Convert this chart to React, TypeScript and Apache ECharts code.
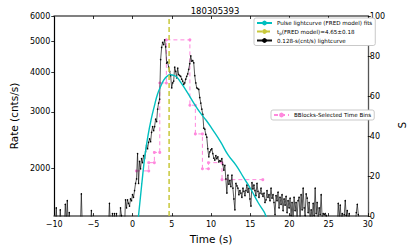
import React, { useEffect, useRef } from 'react';
import * as echarts from 'echarts';

// ---- data ----
const T0 = -10;
const DT = 0.128;
const RATES: number[] = [
  1300, 1300, 1500, 1300, 1300, 1300, 1480, 1300, 1300, 1300,
  1300, 1540, 1350, 1580, 1300, 1450, 1300, 1300, 1300, 1300,
  1300, 1300, 1300, 1300, 1300, 1300, 1300, 1660, 1300, 1300,
  1300, 1300, 1300, 1300, 1300, 1300, 1300, 1470, 1300, 1300,
  1300, 1300, 1300, 1300, 1300, 1300, 1300, 1300, 1300, 1300,
  1300, 1300, 1300, 1300, 1300, 1550, 1300, 1300, 1440, 1300,
  1440, 1300, 1440, 1300, 1300, 1300, 1500, 1420, 1300, 1300,
  1300, 1590, 1500, 1590, 1550, 1520, 1600, 1580, 1650, 1620,
  1700, 1790, 1850, 2220, 1790, 2100, 1990, 2140, 2080, 2190,
  2150, 2250, 2360, 2300, 2410, 2470, 2420, 2590, 2700, 2620,
  2700, 2850, 2800, 3060, 3200, 3290, 4380, 4780, 4960, 4880,
  5050, 4800, 4270, 4300, 4150, 4020, 3900, 3570, 3700, 3750,
  4150, 4020, 3840, 4120, 3930, 3900, 3880, 3800, 3750, 3660,
  3700, 3800, 3880, 3950, 4080, 4250, 4500, 4330, 4350, 4280,
  3900, 3700, 3570, 3550, 3530, 3330, 3200, 3060, 2950, 2670,
  2650, 2550, 2500, 2300, 2170, 2250, 2280, 2300, 2220, 2150,
  2120, 2190, 2140, 2170, 2090, 2110, 2100, 2140, 2050, 1970,
  2040, 1850, 1670, 1900, 1780, 1830, 1750, 1900, 1730, 1600,
  1480, 1790, 1760, 1730, 1650, 1700, 1670, 1620, 1730, 1690,
  1640, 1700, 1770, 1680, 1730, 1600, 1520, 1800, 1720, 1770,
  1700, 1640, 1790, 1690, 1620, 1670, 1730, 1660, 1630, 1670,
  1560, 1590, 1700, 1620, 1650, 1580, 1730, 1610, 1650, 1560,
  1430, 1640, 1580, 1680, 1500, 1620, 1540, 1650, 1470, 1600,
  1530, 1630, 1450, 1580, 1500, 1610, 1420, 1560, 1380, 1620,
  1470, 1560, 1400, 1580, 1620, 1390, 1650, 1480, 1730, 1500,
  1420, 1660, 1610, 1450, 1560, 1380, 1480, 1390, 1550, 1420,
  1730, 1440, 1560, 1400, 1500, 1430, 1650, 1380, 1440, 1430,
  1440, 1420, 1300, 1300, 1300, 1300, 1300, 1300, 1300, 1300,
  1300, 1300, 1300, 1550, 1400, 1530, 1380, 1440, 1300, 1430,
  1580, 1420, 1470, 1380, 1440, 1300, 1380, 1300, 1300, 1300,
  1300, 1450, 1540, 1430, 1390, 1300, 1300, 1300, 1300, 1300,
  1300, 1300, 1300,
];

const FRED_T = [0.7, 1.17, 1.57, 1.96, 2.37, 2.77, 3.17, 3.58, 3.98, 4.37, 4.78, 5.18, 5.58, 6.18, 6.99, 7.8, 8.59, 9.4, 10.2, 11.2, 12.17, 13.2, 14.2, 15.06, 16.0, 16.75, 16.99, 17.2];
const FRED_R = [1380, 1790, 2190, 2530, 2850, 3130, 3410, 3610, 3780, 3880, 3930, 3910, 3870, 3700, 3450, 3200, 2990, 2820, 2640, 2420, 2200, 2040, 1860, 1720, 1560, 1460, 1416, 1370];

const BB_T = [0.48, 2.05, 2.05, 2.77, 2.77, 3.46, 3.46, 4.3, 4.3, 7.3, 7.3, 8.0, 8.0, 8.9, 8.9, 9.67, 9.67, 11.4, 11.4, 16.6];
const BB_R = [1960, 1960, 2080, 2080, 2240, 2240, 3700, 3700, 5050, 5050, 3150, 3150, 2560, 2560, 1990, 1990, 2080, 2080, 1840, 1840];

const TP = 4.65;
const Y_TICKS = [2000, 3000, 4000, 5000, 6000];
const S_MIN = 0;
const S_MAX = 100;
const X_MIN = -10;
const X_MAX = 30;
const Y_MIN = 1414;
const Y_MAX = 6000;

const FRED_NAME = 'Pulse lightcurve (FRED model) fits';
const TP_NAME = 't_p(FRED model)=4.65±0.18';
const LC_NAME = '0.128-s(cnt/s) lightcurve';
const BB_NAME = 'BBlocks-Selected Time Bins';

const lg = (v: number) => Math.log10(v);
const FONT = 'DejaVu Sans';

export default function App() {
  const ref = useRef<HTMLDivElement>(null);
  useEffect(() => {
    if (!ref.current) return;
    const chart = echarts.init(ref.current, null, { renderer: 'svg' });
    const lcData = RATES.map((r, i) => [T0 + i * DT, lg(r)]);
    const fredData = FRED_T.map((t, i) => [t, lg(FRED_R[i])]);
    const bbData = BB_T.map((t, i) => [t, lg(BB_R[i])]);
    const tickVals = Y_TICKS.map(lg);
    const legendCommon = {
      orient: 'vertical' as const,
      itemWidth: 15,
      itemHeight: 6,
      itemGap: 2.5,
      borderColor: '#bbbbbb',
      borderWidth: 0.8,
      borderRadius: 2,
      backgroundColor: '#ffffff',
      textStyle: {
        fontFamily: FONT,
        fontSize: 5.6,
        color: '#000',
        rich: { s: { fontFamily: FONT, fontSize: 4, padding: [3, 0, 0, 0] } },
      },
      formatter: (name: string) =>
        name === TP_NAME ? 't{s|p}(FRED model)=4.65±0.18' : name,
    };
    const option: any = {
      animation: false,
      textStyle: { fontFamily: FONT },
      title: {
        text: '180305393',
        left: 210,
        top: 1,
        textAlign: 'center',
        textStyle: { fontFamily: FONT, fontSize: 8.5, fontWeight: 'normal', color: '#000' },
      },
      legend: [
        {
          ...legendCommon,
          left: 254,
          top: 18,
          padding: [2, 3, 2, 2],
          data: [FRED_NAME, TP_NAME, LC_NAME],
        },
        {
          ...legendCommon,
          left: 271,
          top: 110,
          padding: [2, 3, 2, 2],
          data: [BB_NAME],
        },
      ],
      grid: { left: 44, right: 39, top: 16, bottom: 31 },
      xAxis: [
        {
          type: 'value',
          min: X_MIN,
          max: X_MAX,
          interval: 5,
          position: 'bottom',
          name: 'Time (s)',
          nameLocation: 'middle',
          nameGap: 8,
          nameTextStyle: { fontFamily: FONT, fontSize: 10.5, color: '#000' },
          axisLine: { onZero: false, lineStyle: { color: '#808080', width: 2 } },
          axisTick: { inside: true, length: 3, lineStyle: { color: '#000', width: 0.8 } },
          axisLabel: {
            fontFamily: FONT,
            fontSize: 8,
            lineHeight: 8,
            color: '#000',
            margin: 4,
            formatter: (v: number) => (v < 0 ? '\u2212' + Math.abs(v) : String(v)),
          },
          splitLine: { show: false },
        },
        {
          type: 'value',
          min: X_MIN,
          max: X_MAX,
          interval: 5,
          position: 'top',
          axisLine: { onZero: false, lineStyle: { color: '#808080', width: 2 } },
          axisTick: { inside: true, length: 3, lineStyle: { color: '#000', width: 0.8 } },
          axisLabel: { show: false },
          splitLine: { show: false },
        },
      ],
      yAxis: [
        {
          type: 'value',
          min: lg(Y_MIN),
          max: lg(Y_MAX),
          position: 'left',
          name: 'Rate (cnts/s)',
          nameLocation: 'middle',
          nameRotate: 90,
          nameGap: 27,
          nameTextStyle: { fontFamily: FONT, fontSize: 10.5, color: '#000' },
          axisLine: { show: true, onZero: false, lineStyle: { color: '#000', width: 1.2 } },
          axisTick: { show: true, length: 3, customValues: tickVals, lineStyle: { color: '#000', width: 0.8 } },
          axisLabel: {
            fontFamily: FONT,
            fontSize: 8,
            color: '#000',
            margin: 4,
            customValues: tickVals,
            formatter: (v: number) => String(Math.round(Math.pow(10, v))),
          },
          splitLine: { show: false },
        },
        {
          type: 'value',
          min: S_MIN,
          max: S_MAX,
          interval: 20,
          position: 'right',
          name: 'S',
          nameLocation: 'middle',
          nameRotate: 90,
          nameGap: 20,
          nameTextStyle: { fontFamily: FONT, fontSize: 10.5, color: '#000', padding: [0, 18, 0, 0] },
          axisLine: { show: true, onZero: false, lineStyle: { color: '#555', width: 1.3 } },
          axisTick: { show: true, length: 3, lineStyle: { color: '#000', width: 0.8 } },
          axisLabel: { fontFamily: FONT, fontSize: 8, lineHeight: 8, color: '#000', margin: 2, padding: [0, 0, 3, 0] },
          splitLine: { show: false },
        },
      ],
      series: [
        {
          name: BB_NAME,
          type: 'line',
          data: bbData,
          xAxisIndex: 0,
          yAxisIndex: 0,
          color: '#ff88dd',
          lineStyle: { color: '#ff88dd', width: 1, type: [4, 3] },
          symbol: 'circle',
          symbolSize: 3,
          itemStyle: { color: '#ff88dd' },
          clip: true,
          z: 2,
        },
        {
          name: LC_NAME,
          type: 'line',
          data: lcData,
          color: '#000',
          lineStyle: { color: '#111', width: 0.7 },
          symbol: 'circle',
          symbolSize: 1.5,
          itemStyle: { color: '#000' },
          clip: true,
          z: 3,
        },
        {
          name: FRED_NAME,
          type: 'line',
          data: fredData,
          smooth: true,
          color: '#00bfbf',
          lineStyle: { color: '#00bfbf', width: 1.4 },
          symbol: 'none',
          clip: true,
          z: 4,
        },
        {
          name: TP_NAME,
          type: 'line',
          data: [[TP, lg(Y_MIN)], [TP, lg(Y_MAX)]],
          color: '#c8c83a',
          lineStyle: { color: '#c8c83a', width: 1.5, type: [5, 3] },
          symbol: 'none',
          z: 5,
        },
      ],
    };
    chart.setOption(option);
    return () => chart.dispose();
  }, []);
  return (
    <div
      ref={ref}
      style={{ position: 'fixed', left: 0, top: 0, width: 415, height: 249, background: '#fff' }}
    />
  );
}
